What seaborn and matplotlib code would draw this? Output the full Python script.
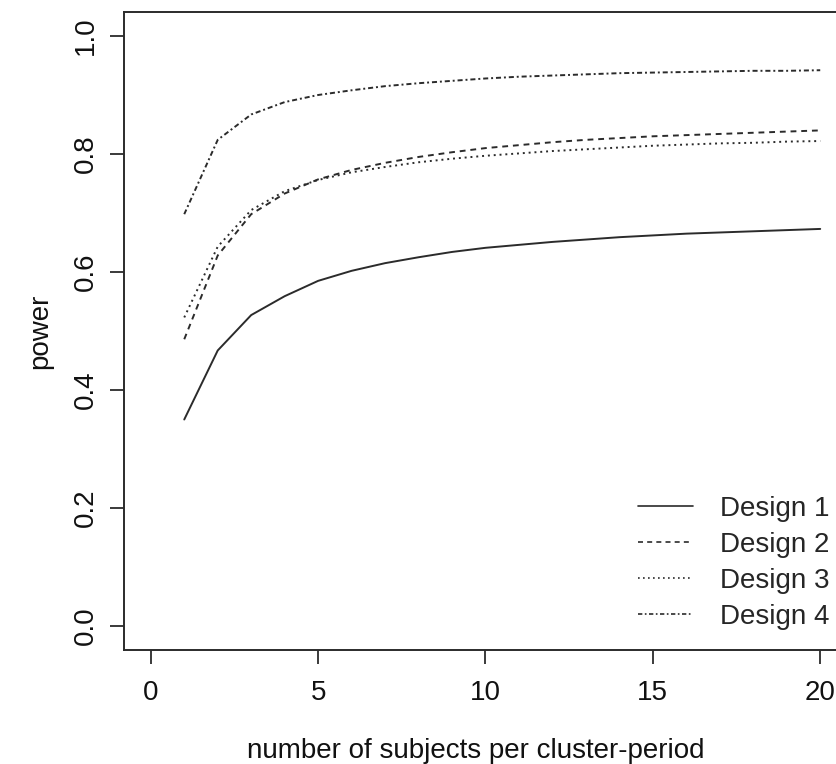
import matplotlib
matplotlib.use("Agg")
import matplotlib.pyplot as plt
import seaborn as sns
import pandas as pd

subjects = list(range(1, 21))
design1 = [0.350, 0.467, 0.527, 0.559, 0.585, 0.602, 0.615, 0.625, 0.634, 0.641,
           0.646, 0.651, 0.655, 0.659, 0.662, 0.665, 0.667, 0.669, 0.671, 0.673]
design2 = [0.486, 0.628, 0.698, 0.733, 0.757, 0.773, 0.785, 0.795, 0.803, 0.810,
           0.815, 0.820, 0.824, 0.827, 0.830, 0.832, 0.834, 0.836, 0.838, 0.840]
design3 = [0.523, 0.643, 0.705, 0.737, 0.756, 0.769, 0.778, 0.786, 0.792, 0.797,
           0.801, 0.805, 0.808, 0.811, 0.814, 0.816, 0.818, 0.819, 0.821, 0.822]
design4 = [0.698, 0.824, 0.867, 0.888, 0.900, 0.908, 0.915, 0.920, 0.924, 0.928,
           0.931, 0.933, 0.935, 0.937, 0.938, 0.939, 0.940, 0.941, 0.941, 0.942]
labels = ["Design 1", "Design 2", "Design 3", "Design 4"]
x_ticks = [0, 5, 10, 15, 20]
y_ticks = [0.0, 0.2, 0.4, 0.6, 0.8, 1.0]

sns.set_theme(style="white")
plt.rcParams["font.family"] = ["Liberation Sans", "DejaVu Sans"]

W, H = 836, 764
fig = plt.figure(figsize=(W / 100, H / 100), dpi=100)
left, right, top, bottom = 124, 847, 12.4, 649.6
ax = fig.add_axes([left / W, 1 - bottom / H, (right - left) / W, (bottom - top) / H])

df = pd.DataFrame({
    "x": subjects * 4,
    "power": design1 + design2 + design3 + design4,
    "design": sum([[l] * len(subjects) for l in labels], []),
})
dashes = {"Design 1": "", "Design 2": (3, 2.5), "Design 3": (1, 2),
          "Design 4": (2.6, 1.5, 1, 1.5)}
col = "#2b2b2b"
sns.lineplot(data=df, x="x", y="power", style="design", dashes=dashes,
             color=col, linewidth=1.4, ax=ax, legend=True)

ax.set_xlim(-0.8, 20.8)
ax.set_ylim(-0.04, 1.04)
ax.set_xticks(x_ticks)
ax.set_xticklabels([str(t) for t in x_ticks])
ax.set_yticks(y_ticks)
ax.set_yticklabels([f"{t:.1f}" for t in y_ticks], rotation=90, va="center")
ax.tick_params(axis="both", which="both", direction="out", length=10, width=1.3,
               color=col, labelsize=20, labelcolor="#111111", bottom=True, left=True)
ax.tick_params(axis="x", pad=12)
ax.tick_params(axis="y", pad=8)
for s in ax.spines.values():
    s.set_visible(True)
    s.set_color(col)
    s.set_linewidth(1.4)
ax.set_xlabel("number of subjects per cluster-period", fontsize=20, color="#111111")
ax.xaxis.set_label_coords((476 - left) / (right - left), -(738 - bottom) / (bottom - top))
ax.set_ylabel("power", fontsize=20, color="#111111", labelpad=14)

handles, lbls = ax.get_legend_handles_labels()
leg = ax.legend(handles, lbls, loc="upper left", bbox_to_anchor=(638 / W, 1 - 496 / H),
                bbox_transform=fig.transFigure, frameon=False, fontsize=20,
                handlelength=1.98, handletextpad=0.97, labelspacing=0.36,
                borderpad=0, borderaxespad=0, title=None)
for h in leg.get_lines():
    h.set_linewidth(1.2)

fig.savefig("out.png", dpi=100, facecolor="white")
